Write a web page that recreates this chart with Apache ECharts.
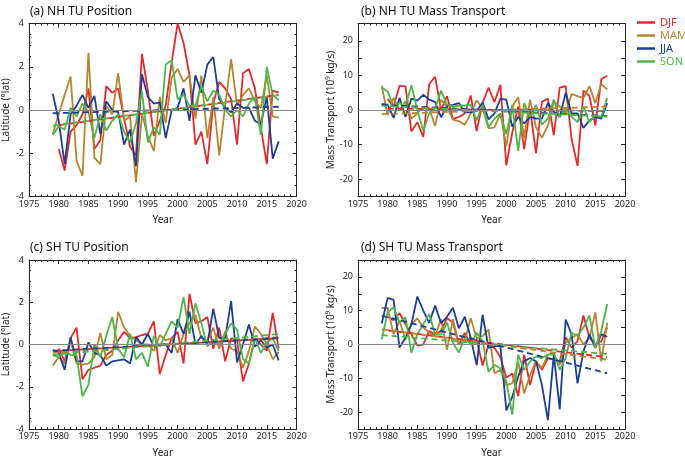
<!DOCTYPE html>
<html><head><meta charset="utf-8">
<script src="https://cdn.jsdelivr.net/npm/echarts@6/dist/echarts.min.js"></script>
<style>html,body{margin:0;padding:0;background:#fff}#c{width:685px;height:459px}</style>
</head><body><div id="c"></div>
<script>
const years = [1979,1980,1981,1982,1983,1984,1985,1986,1987,1988,1989,1990,1991,1992,1993,1994,1995,1996,1997,1998,1999,2000,2001,2002,2003,2004,2005,2006,2007,2008,2009,2010,2011,2012,2013,2014,2015,2016,2017];
const seasons = ['DJF','MAM','JJA','SON'];
const colors = ['#e5292b','#b5862f','#1d3e94','#4cb748'];

// (a) NH TU Position
const aDJF = [null,-1.8,-2.8,-1.0,-0.7,-0.2,1.0,-1.8,-1.4,1.1,0.8,1.0,-0.4,-1.7,-2.1,2.6,0.9,-1.2,-0.5,0.2,2.2,4.0,3.1,1.6,-1.6,-1.0,-2.5,0.3,1.3,1.0,0.5,-1.6,1.7,1.9,1.0,-0.8,-2.5,0.9,0.8];
const aMAM = [-1.1,-0.2,0.7,1.55,-2.35,-3.05,2.65,-2.2,-2.5,0.2,-0.2,1.7,-0.5,-0.3,-3.35,-0.2,-1.2,-1.9,0.6,-0.6,1.5,1.9,1.3,1.6,-0.4,1.6,-1.3,0.6,-2.1,0.2,2.35,0.2,0.7,1.0,0.4,0.1,1.6,-0.3,-0.35];
const aJJA = [0.75,-0.5,-2.5,-0.2,0.2,0.7,0.1,0.65,-1.1,0.4,0.0,-0.1,-1.6,-0.9,-2.6,1.65,0.6,0.3,0.35,-1.3,0.0,0.1,1.0,-0.5,1.6,0.8,2.1,2.45,0.5,0.1,-0.1,0.3,0.1,0.1,-0.5,-0.65,0.6,-2.25,-1.45];
const aSON = [-1.15,-0.75,-0.9,0.1,-0.3,0.3,-0.1,-1.3,-0.2,-0.95,-0.5,-0.2,-1.0,-1.5,-0.6,0.85,-1.5,-0.8,-1.15,2.1,2.3,0.5,0.7,0.2,0.2,1.1,0.4,0.9,0.7,0.0,-0.3,0.0,-0.3,0.3,0.6,-1.15,2.0,0.7,0.45];
const aTrend = [[-0.7,0.7],null,[-0.15,0.15],[-0.72,0.68]];

// (b) NH TU Mass Transport
const bDJF = [null,3.2,1.0,7.0,6.8,-6.2,-3.5,-7.8,7.5,9.6,0.0,4.0,-2.6,-2.0,-1.0,4.2,-6.1,2.0,6.5,2.3,7.3,-16.0,-6.5,1.0,-11.3,0.3,-12.5,2.4,3.3,-7.3,6.5,6.9,-8.4,-16.2,5.6,4.1,-4.5,8.9,9.9];
const bMAM = [7.0,-1.5,3.5,0.0,2.5,-2.5,-1.0,1.0,0.5,-4.6,3.0,1.0,-2.8,-3.2,-4.3,-1.0,2.8,0.5,-5.3,-5.0,-1.0,-10.5,1.0,3.7,-8.0,3.0,-5.0,-8.0,-4.5,2.5,1.0,-1.0,4.6,4.0,3.5,6.9,2.0,7.5,6.0];
const bJJA = [1.8,1.5,-2.3,3.5,-2.0,3.3,2.7,4.4,3.0,2.3,-2.1,1.2,1.5,2.0,-0.7,-0.7,-0.3,2.2,-2.7,-1.0,3.2,3.0,-4.8,-2.0,-3.9,-2.0,-2.5,-2.5,2.0,-0.5,-2.0,5.0,-1.0,-1.0,-5.2,-3.0,-2.0,-2.5,2.0];
const bSON = [6.6,5.3,1.0,2.0,1.0,7.2,0.0,-6.0,-1.0,0.5,5.6,1.5,1.0,1.3,1.3,1.5,-3.0,1.5,-5.0,-2.5,-1.0,-7.0,1.5,-11.8,2.0,-2.0,1.5,-4.2,-2.5,3.0,-2.0,0.5,-2.0,-3.5,1.0,-3.5,-1.5,-2.0,3.5];
const bTrend = [[0.4,-0.3],[-1.2,1.0],[1.5,-1.8],[1.2,-1.9]];

// (c) SH TU Position
const cDJF = [null,-0.2,-0.8,0.3,0.8,-1.65,-1.2,-1.1,-1.0,-0.5,-0.3,0.2,0.6,0.3,0.35,0.45,0.5,1.1,-1.4,-0.5,0.3,0.6,-0.9,2.4,1.0,1.1,1.3,-0.2,0.8,-0.8,0.3,0.2,-1.75,-0.9,0.3,0.0,-0.3,1.5,-0.2];
const cMAM = [-1.0,-0.6,-0.9,0.2,-0.9,-0.95,-0.9,-0.6,0.55,-0.7,-0.5,1.55,0.8,0.4,0.2,0.0,0.0,-0.3,0.45,0.2,0.3,-0.4,0.5,1.0,1.4,0.3,0.2,0.8,-0.2,0.6,-0.2,-0.3,-1.1,-0.3,0.85,0.5,0.0,-0.7,-0.35];
const cJJA = [-0.25,-0.4,-1.2,0.35,-0.8,-0.8,0.1,-0.4,-0.5,-1.0,-0.8,-0.75,-0.7,-0.9,0.35,0.0,0.5,-0.1,0.0,0.0,-0.4,1.2,0.5,1.55,0.0,0.4,0.0,1.7,0.3,0.3,2.05,-0.85,0.0,0.95,-0.1,0.2,-0.15,0.0,-0.75];
const cSON = [-0.5,-0.6,-0.3,-0.5,-0.5,-2.45,-1.9,0.0,-0.6,0.4,1.3,-0.2,-0.6,0.5,-0.7,-0.4,-1.05,0.4,-0.1,0.5,1.1,0.8,2.25,0.5,1.95,1.0,-0.1,0.2,0.0,0.5,1.0,0.7,-0.7,-0.9,0.3,-0.4,0.1,0.3,-0.3];
const cTrend = [[-0.3,0.3],[-0.4,0.35],[-0.3,0.3],[-0.5,0.5]];

// (d) SH TU Mass Transport
const dDJF = [null,8.2,7.2,9.3,6.0,3.0,-0.3,0.0,4.0,3.0,4.0,7.8,6.5,0.0,3.4,0.0,1.5,-6.2,0.0,-1.0,-3.8,-9.8,-8.6,-15.3,-3.0,-12.0,-5.0,-7.5,-4.0,-4.5,-5.0,2.2,-1.0,1.0,8.6,2.0,0.0,1.0,5.0];
const dMAM = [10.8,10.8,3.0,7.0,1.5,6.0,7.7,5.0,3.5,2.5,7.5,-1.6,7.5,0.0,1.0,7.8,1.8,2.5,4.5,-8.5,-7.5,-12.0,-11.5,-5.0,-14.5,-9.0,-5.0,-7.0,-3.0,-3.0,-6.0,0.5,2.0,3.0,0.0,2.0,9.5,-5.0,6.5];
const dJJA = [6.2,13.8,13.2,-0.9,2.0,6.0,14.2,10.0,6.4,11.5,6.3,8.2,10.9,4.8,8.2,2.0,-6.1,8.8,-1.0,-0.5,-0.5,-19.5,-15.5,-9.5,-5.0,-4.0,-5.0,-12.0,-22.4,-3.0,-19.2,7.4,3.0,-11.5,-2.0,3.0,-1.0,3.0,2.3];
const dSON = [1.5,9.5,11.0,6.5,8.0,-2.4,3.0,6.0,9.0,3.0,3.0,6.5,0.5,-2.4,2.0,0.0,3.5,1.0,-8.0,-6.0,-7.0,-11.0,-20.7,-3.0,-7.5,-5.0,-3.5,-4.0,-3.0,-2.5,-7.5,-4.0,3.5,2.5,5.0,8.6,-1.0,4.0,12.0];
const dTrend = [[4.2,-3.8],[4.5,-4.5],[8.5,-8.5],[2.8,-2.8]];

const panels = [
  {title:'(a) NH TU Position', data:[aDJF,aMAM,aJJA,aSON], trend:aTrend, ymin:-4, ymax:4, yint:2, minor:4, labelEvery:2, yname:'Latitude (°lat)'},
  {title:'(b) NH TU Mass Transport', data:[bDJF,bMAM,bJJA,bSON], trend:bTrend, ymin:-25, ymax:25, yint:5, minor:0, labelEvery:10, yname:'Mass Transport (10⁹ kg/s)'},
  {title:'(c) SH TU Position', data:[cDJF,cMAM,cJJA,cSON], trend:cTrend, ymin:-4, ymax:4, yint:2, minor:4, labelEvery:2, yname:'Latitude (°lat)'},
  {title:'(d) SH TU Mass Transport', data:[dDJF,dMAM,dJJA,dSON], trend:dTrend, ymin:-25, ymax:25, yint:5, minor:0, labelEvery:10, yname:'Mass Transport (10⁹ kg/s)'}
];
const grids = [
  {left:28, top:23.5, width:268.5, height:173},
  {left:358, top:23.5, width:267, height:173},
  {left:28, top:260, width:268.5, height:173.5},
  {left:358, top:260, width:267, height:173.5}
];
const titlePos = [{left:25, top:1},{left:356, top:1},{left:25, top:237},{left:356, top:237}];

const FONT = 'Noto Sans';
const axisCol = '#222';
const xAxes = [], yAxes = [], series = [], titles = [];
function trendStart(s){ return s === 0 ? 1980 : 1979; }
panels.forEach((p, i) => {
  titles.push({text:p.title, left:titlePos[i].left, top:titlePos[i].top,
    textStyle:{fontFamily:FONT, fontSize:12, fontWeight:'normal', color:'#111'}});
  const xBase = {type:'value', gridIndex:i, min:1975, max:2020, interval:5,
    axisLine:{show:true, onZero:false, lineStyle:{color:axisCol, width:1}},
    axisTick:{show:true, inside:true, length:4, lineStyle:{color:axisCol}},
    minorTick:{show:true, splitNumber:5, length:2, lineStyle:{color:axisCol}},
    splitLine:{show:false}};
  xAxes.push(Object.assign({}, xBase, {position:'bottom',
    axisLabel:{fontFamily:FONT, fontSize:9, color:'#222', margin:3, formatter: v => String(v)},
    name:'Year', nameLocation:'middle', nameGap:19,
    nameTextStyle:{fontFamily:FONT, fontSize:10, color:'#222'}}));
  xAxes.push(Object.assign({}, xBase, {position:'top', axisLabel:{show:false}}));
  const yBase = {type:'value', gridIndex:i, min:p.ymin, max:p.ymax, interval:p.yint,
    axisLine:{show:true, onZero:false, lineStyle:{color:axisCol, width:1}},
    axisTick:{show:true, inside:true, length:4, lineStyle:{color:axisCol}},
    minorTick:{show:p.minor>0, splitNumber:p.minor||1, length:2, lineStyle:{color:axisCol}},
    splitLine:{show:false}};
  yAxes.push(Object.assign({}, yBase, {position:'left',
    axisLabel:{fontFamily:FONT, fontSize:9, color:'#222', margin:5,
      formatter: v => (Math.round(v) % p.labelEvery === 0 ? String(v) : '')},
    name:p.yname, nameLocation:'middle', nameGap: i%2===0 ? 18 : 22, nameRotate:90,
    nameTextStyle:{fontFamily:FONT, fontSize:10, color:'#222'}}));
  yAxes.push(Object.assign({}, yBase, {position:'right', axisLabel:{show:false}}));

  series.push({type:'line', xAxisIndex:2*i, yAxisIndex:2*i, data:[], silent:true, z:1,
    markLine:{silent:true, symbol:'none', label:{show:false}, animation:false,
      lineStyle:{color:'#888', width:1, type:'solid'}, data:[{yAxis:0}]}});

  p.data.forEach((vals, s) => {
    const pts = [];
    years.forEach((y, k) => { if (vals[k] !== null) pts.push([y, vals[k]]); });
    series.push({type:'line', name:seasons[s], xAxisIndex:2*i, yAxisIndex:2*i,
      data:pts, symbol:'none', z:2, animation:false,
      lineStyle:{color:colors[s], width:1.8}, itemStyle:{color:colors[s]}});
  });
  p.trend.forEach((t, s) => {
    if (!t) return;
    series.push({type:'line', name:seasons[s]+' trend', xAxisIndex:2*i, yAxisIndex:2*i,
      data:[[trendStart(s), t[0]], [2017, t[1]]], symbol:'none', z:3, animation:false,
      lineStyle:{color:colors[s], width:1.8, type:[6,4]}});
  });
});

const chart = echarts.init(document.getElementById('c'), null, {renderer:'canvas'});
chart.setOption({
  animation:false,
  backgroundColor:'#fff',
  title:titles,
  grid:grids,
  xAxis:xAxes,
  yAxis:yAxes,
  legend:{left:637, top:17, orient:'vertical', itemWidth:18, itemHeight:2.5, itemGap:2,
    icon:'rect', padding:0, selectedMode:false,
    textStyle:{fontFamily:FONT, fontSize:11},
    data:seasons.map((n, s) => ({name:n, textStyle:{color:colors[s]}}))},
  series:series
});
</script></body></html>
